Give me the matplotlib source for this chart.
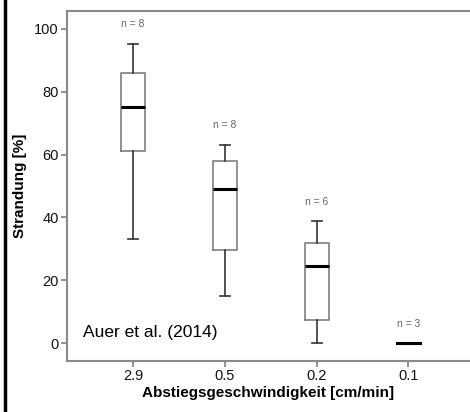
import matplotlib
matplotlib.use("Agg")
import matplotlib.pyplot as plt
from matplotlib.lines import Line2D

plt.rcParams['font.family'] = ['Liberation Sans', 'DejaVu Sans']

# Absenkgeschwindigkeit und Box-Statistik (Strandung in %)
categories = ["2.9", "0.5", "0.2", "0.1"]
whisker_low = [33.0, 15.0, 0.0, 0.0]
q1 = [61.0, 29.7, 7.5, 0.0]
median = [75.0, 49.0, 24.6, 0.0]
q3 = [85.9, 58.1, 31.9, 0.0]
whisker_high = [95.3, 63.1, 38.8, 0.0]
n_labels = ["n = 8", "n = 8", "n = 6", "n = 3"]

stats = []
for i, c in enumerate(categories):
    stats.append({"label": c, "whislo": whisker_low[i], "q1": q1[i], "med": median[i],
                  "q3": q3[i], "whishi": whisker_high[i], "fliers": []})

fig = plt.figure(figsize=(4.7, 4.12), dpi=100)
ax = fig.add_axes([0.1426, 0.1238, 0.8574, 0.8495])

pos = list(range(len(categories)))
ax.bxp(stats, positions=pos, widths=0.26, showfliers=False,
       boxprops=dict(color="#7f7f7f", linewidth=1.2),
       whiskerprops=dict(color="#333333", linewidth=1.2),
       capprops=dict(color="#333333", linewidth=1.2),
       medianprops=dict(color="black", linewidth=2.2),
       capwidths=0.11)

# Gruppe ohne Streuung: nur dicke Linie
ax.plot([pos[3] - 0.13, pos[3] + 0.13], [median[3], median[3]], color="black", lw=2.2)

for i, t in enumerate(n_labels):
    ax.annotate(t, (pos[i], whisker_high[i]), xytext=(0, 14), textcoords="offset points",
                ha="center", va="center", fontsize=7.5, color="#666666")

ax.set_xlim(-0.72, 3.67)
ax.set_ylim(-5.7, 105.7)
ax.set_xticks(pos)
ax.set_xticklabels(categories)
ax.set_yticks([0, 20, 40, 60, 80, 100])
ax.tick_params(colors="#7f7f7f", length=4.5, width=1.2, pad=1.5,
               labelcolor="#111111", labelsize=10.5)
for s in ["left", "top", "bottom"]:
    ax.spines[s].set_color("#8a8a8a")
    ax.spines[s].set_linewidth(1.5)
ax.spines["right"].set_visible(False)

ax.set_xlabel("Abstiegsgeschwindigkeit [cm/min]", fontweight="bold", fontsize=11, labelpad=2)
ax.set_ylabel("Strandung [%]", fontweight="bold", fontsize=11, labelpad=5)

ax.text(0.04, 0.08, "Auer et al. (2014)", transform=ax.transAxes, fontsize=12.5,
        ha="left", va="center")

fig.add_artist(Line2D([4.5 / 470, 4.5 / 470], [0, 1], color="black", lw=2.5,
                      transform=fig.transFigure))

fig.savefig("out.png", dpi=100)
